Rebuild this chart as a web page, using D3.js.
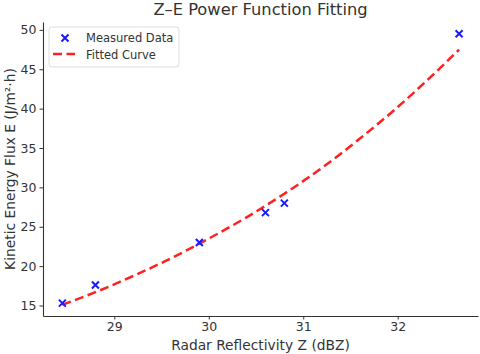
<!DOCTYPE html>
<html>
<head>
<meta charset="utf-8">
<script src="https://cdn.jsdelivr.net/npm/d3@7"></script>
<style>
    body { margin: 0; background: #fff; }
    svg { display: block; font-family: "DejaVu Sans", sans-serif; }
</style>
</head>
<body>
<div id="chart"></div>
<script>
// Measured radar reflectivity (dBZ) and kinetic energy flux
var measuredZ = [28.45, 28.8, 29.9, 30.6, 30.8, 32.65];
var measuredE = [15.3, 17.6, 23.0, 26.8, 28.0, 49.5];

// Fitted curve
var fittedZ = [28.45, 28.8, 29.2, 29.6, 30.0, 30.4, 30.8, 31.2, 31.6, 32.0, 32.4, 32.65];
var fittedE = [15.1, 16.7, 18.75, 21.0, 23.5, 26.2, 29.2, 32.5, 36.2, 40.2, 44.6, 47.5];

// Tick labels
var xTicks = [29, 30, 31, 32];
var yTicks = [15, 20, 25, 30, 35, 40, 45, 50];

var width = 480, height = 354;
var margin = { top: 22, right: 2, bottom: 38, left: 43 };

var svg = d3.select('#chart').append('svg')
    .attr('width', width)
    .attr('height', height);

var plotW = width - margin.left - margin.right,
    plotH = height - margin.top - margin.bottom;

var g = svg.append('g')
    .attr('transform', 'translate(' + margin.left + ',' + margin.top + ')');

// Scales
var xScale = d3.scaleLinear()
    .domain([28.245, 32.85])
    .range([0, plotW]);
var yScale = d3.scaleLinear()
    .domain([13.67, 51.0])
    .range([plotH, 0]);

// Axes (left and bottom spines only)
var xAxis = g.append('g')
    .attr('transform', 'translate(0,' + plotH + ')')
    .call(d3.axisBottom(xScale).tickValues(xTicks).tickFormat(d3.format('d'))
        .tickSize(3.5).tickPadding(3).tickSizeOuter(0));
var yAxis = g.append('g')
    .call(d3.axisLeft(yScale).tickValues(yTicks).tickFormat(d3.format('d'))
        .tickSize(3.5).tickPadding(3).tickSizeOuter(0));

[xAxis, yAxis].forEach(function(ax) {
    ax.select('.domain').attr('stroke', '#333').attr('stroke-width', 1.1);
    ax.selectAll('.tick line').attr('stroke', '#333');
    ax.selectAll('.tick text')
        .attr('fill', '#333')
        .attr('font-size', '12.5px')
        .attr('font-family', '"DejaVu Sans", sans-serif');
});

// Fitted curve
var curveData = fittedZ.map(function(z, i) { return { z: z, e: fittedE[i] }; });
var line = d3.line()
    .x(function(d) { return xScale(d.z); })
    .y(function(d) { return yScale(d.e); })
    .curve(d3.curveMonotoneX);

g.append('path')
    .datum(curveData)
    .attr('d', line)
    .attr('fill', 'none')
    .attr('stroke', '#ff2020')
    .attr('stroke-width', 2.5)
    .attr('stroke-dasharray', '9,4.5');

// Measured points drawn as x markers
var pointData = measuredZ.map(function(z, i) { return { z: z, e: measuredE[i] }; });
var cross = 'M-3.5,-3.5L3.5,3.5M-3.5,3.5L3.5,-3.5';

g.selectAll('path.pt')
    .data(pointData)
    .enter()
    .append('path')
    .classed('pt', true)
    .attr('transform', function(d) {
        return 'translate(' + xScale(d.z) + ',' + yScale(d.e) + ')';
    })
    .attr('d', cross)
    .attr('stroke', '#1a1aff')
    .attr('stroke-width', 2)
    .attr('fill', 'none');

// Legend
var legend = svg.append('g').attr('transform', 'translate(49,27)');
legend.append('rect')
    .attr('width', 130)
    .attr('height', 40)
    .attr('rx', 3)
    .attr('fill', '#fff')
    .attr('fill-opacity', 0.8)
    .attr('stroke', '#ddd');
legend.append('path')
    .attr('transform', 'translate(16,11)')
    .attr('d', cross)
    .attr('stroke', '#1a1aff')
    .attr('stroke-width', 2)
    .attr('fill', 'none');
legend.append('line')
    .attr('x1', 4).attr('x2', 26)
    .attr('y1', 27).attr('y2', 27)
    .attr('stroke', '#ff2020')
    .attr('stroke-width', 2.5)
    .attr('stroke-dasharray', '9,4.5');
legend.append('text')
    .attr('x', 37).attr('y', 15)
    .attr('font-size', '11.5px')
    .attr('fill', '#333')
    .text('Measured Data');
legend.append('text')
    .attr('x', 37).attr('y', 32)
    .attr('font-size', '11.5px')
    .attr('fill', '#333')
    .text('Fitted Curve');

// Title
svg.append('text')
    .attr('x', margin.left + plotW / 2)
    .attr('y', 15)
    .attr('text-anchor', 'middle')
    .attr('font-size', '16.3px')
    .attr('fill', '#333')
    .text('Z–E Power Function Fitting');

// Axis labels
svg.append('text')
    .attr('x', margin.left + plotW / 2)
    .attr('y', 350)
    .attr('text-anchor', 'middle')
    .attr('font-size', '13.8px')
    .attr('fill', '#333')
    .text('Radar Reflectivity Z (dBZ)');
svg.append('text')
    .attr('transform', 'translate(15,' + (margin.top + plotH / 2) + ') rotate(-90)')
    .attr('text-anchor', 'middle')
    .attr('font-size', '13.8px')
    .attr('fill', '#333')
    .text('Kinetic Energy Flux E (J/m²·h)');
</script>
</body>
</html>
